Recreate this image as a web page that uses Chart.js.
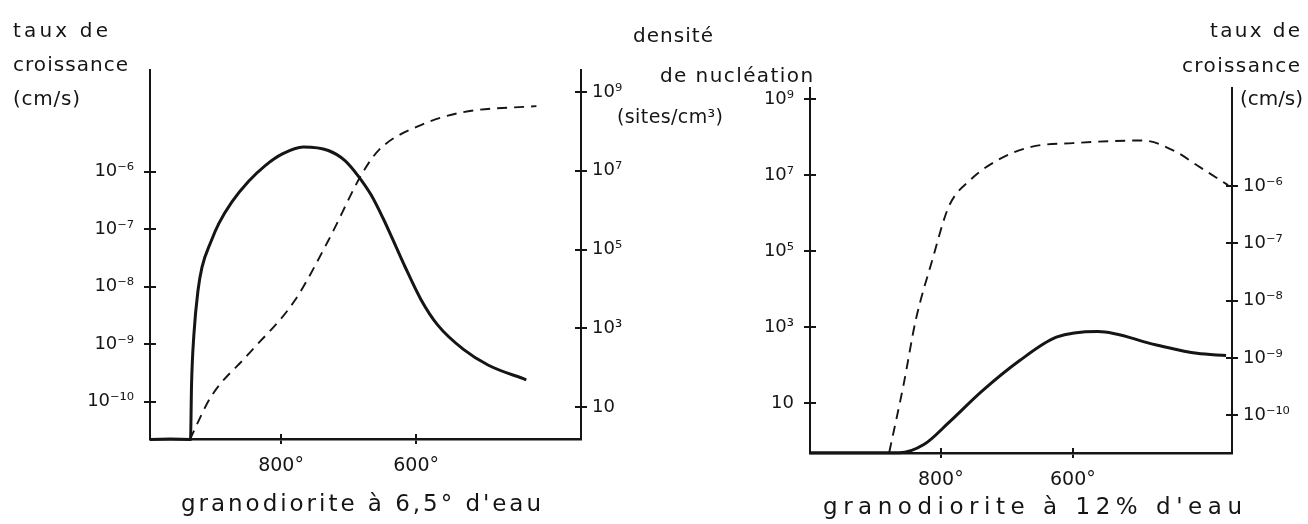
<!DOCTYPE html>
<html>
<head>
<meta charset="utf-8">
<script src="https://cdn.jsdelivr.net/npm/chart.js@4.4.1/dist/chart.umd.min.js"></script>
<style>
  body { margin: 0; background: #fff; }
  #wrap { position: relative; width: 1308px; height: 524px; overflow: hidden; background: #fff; }
  canvas { position: absolute; top: 0; }
  .lbl { position: absolute; white-space: nowrap; color: #151515; font-family: "DejaVu Sans", sans-serif; }
</style>
</head>
<body>
<div id="wrap">
  <canvas id="chartA" width="660" height="524" style="left:0"></canvas>
  <canvas id="chartB" width="648" height="524" style="left:660px"></canvas>
</div>
<script>
// tick values
const tempTicks = [800, 600];
const growthTicks = [1e-6, 1e-7, 1e-8, 1e-9, 1e-10];
const nuclTicks = [1e9, 1e7, 1e5, 1e3, 1e1];

// granodiorite a 6,5 % d'eau
const tempGrowthA = [994, 934, 932.5, 929, 923, 917, 904, 892, 873, 848, 823, 798, 767, 730, 705, 686, 667, 649, 636, 617, 593, 568, 530, 493, 437];
const growthA = [2.2e-11, 2.2e-11, 2e-10, 1.48e-9, 8.5e-9, 2.19e-8, 6e-8, 1.26e-7, 2.95e-7, 6.8e-7, 1.29e-6, 2.04e-6, 2.69e-6, 2.34e-6, 1.55e-6, 8.5e-7, 4e-7, 1.55e-7, 7.2e-8, 2.29e-8, 6e-9, 2.14e-9, 8.1e-10, 4.3e-10, 2.4e-10];
const tempNuclA = [935, 904, 848, 780, 730, 680, 655, 593, 530, 422];
const nuclA = [1.5, 18, 224, 5000, 1.7e5, 8.5e6, 3.4e7, 1.45e8, 3.1e8, 4.4e8];

// granodiorite a 12 % d'eau
const tempGrowthB = [998, 863, 825, 788, 738, 681, 625, 562, 475, 412, 368];
const growthB = [2.2e-11, 2.2e-11, 3.1e-11, 7.4e-11, 2.6e-10, 8.9e-10, 2.3e-9, 2.9e-9, 1.7e-9, 1.2e-9, 1.1e-9];
const tempNuclB = [878, 856, 838, 813, 788, 756, 713, 663, 600, 494, 444, 412, 365];
const nuclB = [0.5, 32, 1480, 5.6e4, 1.45e6, 7.2e6, 2.5e7, 5.5e7, 6.9e7, 8.1e7, 4.1e7, 1.8e7, 5.4e6];

const INK = '#151515';
const FONT = '"DejaVu Sans", sans-serif';

function sup(n) {
  const m = { '-': '\u207B', '0': '\u2070', '1': '\u00B9', '2': '\u00B2', '3': '\u00B3', '4': '\u2074',
              '5': '\u2075', '6': '\u2076', '7': '\u2077', '8': '\u2078', '9': '\u2079' };
  return String(n).split('').map(c => m[c]).join('');
}
function powLabel(v) {
  const e = Math.round(Math.log10(v));
  return e === 1 ? '10' : '10' + sup(e);
}
function pts(xs, ys) {
  return xs.map((x, i) => ({ x: x, y: ys[i] }));
}

// small tick marks on the inner side of each axis, like the drawing
const crossTicks = {
  id: 'crossTicks',
  afterDraw(chart) {
    const ctx = chart.ctx;
    ctx.save();
    ctx.strokeStyle = INK;
    ctx.lineWidth = 2;
    Object.values(chart.scales).forEach(s => {
      s.ticks.forEach(t => {
        const p = Math.round(s.getPixelForValue(t.value));
        ctx.beginPath();
        if (s.isHorizontal()) {
          ctx.moveTo(p, s.top - 5); ctx.lineTo(p, s.top);
        } else if (s.position === 'left') {
          ctx.moveTo(s.right, p); ctx.lineTo(s.right + 6, p);
        } else {
          ctx.moveTo(s.left - 6, p); ctx.lineTo(s.left, p);
        }
        ctx.stroke();
      });
    });
    ctx.restore();
  }
};

function yAxis(pos, ticks, min, max, width, pad) {
  return {
    type: 'logarithmic',
    position: pos,
    min: min,
    max: max,
    afterFit: s => { s.width = width; },
    afterBuildTicks: s => { s.ticks = ticks.map(v => ({ value: v })); },
    ticks: { callback: v => powLabel(v), color: INK, font: { family: FONT, size: 18 }, padding: pad, autoSkip: false },
    grid: { drawOnChartArea: false, tickLength: 6, color: INK, lineWidth: 2 },
    border: { color: INK, width: 2 }
  };
}

function panel(id, o) {
  new Chart(document.getElementById(id), {
    type: 'line',
    data: {
      datasets: [{
        label: 'taux de croissance',
        data: pts(o.tg, o.g),
        yAxisID: 'yG',
        borderColor: INK,
        borderWidth: 3,
        pointRadius: 0,
        cubicInterpolationMode: 'monotone',
        clip: 6
      }, {
        label: 'densité de nucléation',
        data: pts(o.tn, o.n),
        yAxisID: 'yN',
        borderColor: INK,
        borderWidth: 1.9,
        borderDash: [10, 7],
        pointRadius: 0,
        cubicInterpolationMode: 'monotone',
        clip: 6
      }]
    },
    options: {
      responsive: false,
      animation: false,
      devicePixelRatio: 1,
      layout: { padding: { top: o.top, left: 0, right: 0, bottom: 0 } },
      plugins: { legend: { display: false }, tooltip: { enabled: false } },
      scales: {
        x: {
          type: 'linear',
          reverse: true,
          min: o.xmin,
          max: o.xmax,
          afterFit: s => { s.height = o.xh; },
          afterBuildTicks: s => { s.ticks = tempTicks.map(v => ({ value: v })); },
          ticks: { callback: v => v + '°', color: INK, font: { family: FONT, size: 19 }, padding: 11, maxRotation: 0, autoSkip: false },
          grid: { drawOnChartArea: false, tickLength: 5, color: INK, lineWidth: 2 },
          border: { color: INK, width: 2.5 }
        },
        yG: yAxis(o.gPos, growthTicks, o.gMin, o.gMax, o.gPos === 'left' ? o.lw : o.rw, o.gPos === 'left' ? 10 : 5),
        yN: yAxis(o.nPos, nuclTicks, o.nMin, o.nMax, o.nPos === 'left' ? o.lw : o.rw, o.nPos === 'left' ? 10 : 5)
      }
    },
    plugins: [crossTicks]
  });
}

panel('chartA', {
  tg: tempGrowthA, g: growthA, tn: tempNuclA, n: nuclA,
  top: 70, xh: 85, lw: 150, rw: 79, xmin: 356, xmax: 994,
  gPos: 'left', gMin: Math.pow(10, -10.65), gMax: Math.pow(10, -4.23),
  nPos: 'right', nMin: Math.pow(10, 0.19), nMax: Math.pow(10, 9.56)
});

panel('chartB', {
  tg: tempGrowthB, g: growthB, tn: tempNuclB, n: nuclB,
  top: 88, xh: 71, lw: 150, rw: 76, xmin: 359, xmax: 998,
  gPos: 'right', gMin: Math.pow(10, -10.66), gMax: Math.pow(10, -4.29),
  nPos: 'left', nMin: Math.pow(10, -0.32), nMax: Math.pow(10, 9.29)
});

// hand lettering: stretch each text to the width it has in the drawing
const measure = document.createElement('canvas').getContext('2d');
function place(text, x0, x1, cy, size) {
  measure.font = size + 'px ' + FONT;
  const w = measure.measureText(text).width;
  const n = Array.from(text).length;
  const ls = n > 1 ? (x1 - x0 - w) / (n - 1) : 0;
  const d = document.createElement('div');
  d.className = 'lbl';
  d.textContent = text;
  d.style.fontSize = size + 'px';
  d.style.lineHeight = Math.round(size * 1.17) + 'px';
  d.style.letterSpacing = ls.toFixed(2) + 'px';
  d.style.left = x0 + 'px';
  d.style.top = (cy - size * 0.66) + 'px';
  document.getElementById('wrap').appendChild(d);
}

place('taux de', 13, 108, 32, 20);
place('croissance', 13, 128, 66, 20);
place('(cm/s)', 13, 80, 100, 20);

place('densité', 633, 713, 37, 20);
place('de nucléation', 660, 813, 77, 20);
place('(sites/cm³)', 617, 723, 118, 19);

place('taux de', 1210, 1300, 32, 20);
place('croissance', 1182, 1300, 67, 20);
place('(cm/s)', 1240, 1303, 100, 20);

place("granodiorite à 6,5° d'eau", 181, 541, 505, 23);
place("granodiorite à 12% d'eau", 823, 1242, 508, 23);
</script>
</body>
</html>
